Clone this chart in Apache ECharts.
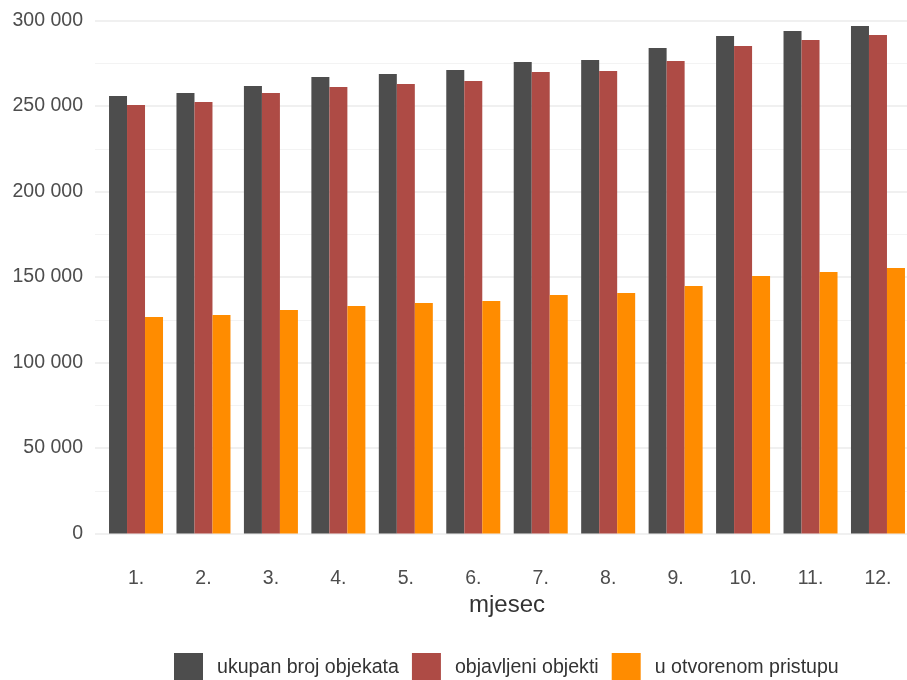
<!DOCTYPE html>
<html>
<head>
<meta charset="utf-8">
<script src="https://cdn.jsdelivr.net/npm/echarts@6/dist/echarts.min.js"></script>
<style>html,body{margin:0;padding:0;background:#fff}#c{width:907px;height:680px}</style>
</head>
<body>
<div id="c"></div>
<script>
const months = ['1.','2.','3.','4.','5.','6.','7.','8.','9.','10.','11.','12.'];
const seriesNames = ['ukupan broj objekata','objavljeni objekti','u otvorenom pristupu'];
const ukupan = [255800, 257600, 261700, 266900, 268700, 271100, 275700, 276900, 283900, 291000, 293900, 296800];
const objavljeni = [250600, 252300, 257600, 261100, 262900, 264600, 269900, 270500, 276300, 285100, 288600, 291500];
const otvoreni = [126600, 127800, 130700, 133000, 134800, 136000, 139500, 140600, 144700, 150600, 152900, 155300];
const colors = ['#4D4D4D', '#AE4B45', '#FF8C00'];
const yTicks = [0, 50000, 100000, 150000, 200000, 250000, 300000];

const fmt = v => String(v).replace(/\B(?=(\d{3})+(?!\d))/g, ' ');
const font = 'Liberation Sans, Arial, sans-serif';
const chart = echarts.init(document.getElementById('c'), null, {renderer: 'canvas'});
const dataSets = [ukupan, objavljeni, otvoreni];
chart.setOption({
  animation: false,
  backgroundColor: '#fff',
  textStyle: {fontFamily: font},
  grid: [
    {left: 95, right: 0, top: 20.5, bottom: 146.5, outerBoundsMode: 'none', containLabel: false},
    {left: 102.3, width: 809.4, top: 20.5, bottom: 146.5, outerBoundsMode: 'none', containLabel: false}
  ],
  xAxis: [
    {gridIndex: 0, type: 'category', data: months, show: false},
    {gridIndex: 1, type: 'category', data: months,
     axisLine: {show: false}, axisTick: {show: false},
     axisLabel: {color: '#4D4D4D', fontSize: 19.5, margin: 35, fontFamily: font},
     name: 'mjesec', nameLocation: 'middle', nameGap: 59,
     nameTextStyle: {color: '#333', fontSize: 24, fontFamily: font}
    }
  ],
  yAxis: [
    {gridIndex: 0, type: 'value', min: yTicks[0], max: yTicks[yTicks.length-1], interval: 50000,
     axisLine: {show: false}, axisTick: {show: false},
     axisLabel: {color: '#4D4D4D', fontSize: 19.5, margin: 12, formatter: fmt, fontFamily: font},
     splitLine: {show: true, lineStyle: {color: '#EBEBEB', width: 1.6}},
     minorTick: {show: false, splitNumber: 2},
     minorSplitLine: {show: true, lineStyle: {color: '#F2F2F2', width: 0.9}}
    },
    {gridIndex: 1, type: 'value', min: yTicks[0], max: yTicks[yTicks.length-1], interval: 50000, show: false,
     splitLine: {show: false}}
  ],
  legend: {
    left: 169, top: 648, itemWidth: 29, itemHeight: 29, itemGap: 13,
    icon: 'rect',
    textStyle: {color: '#333', fontSize: 19.6, fontFamily: font, padding: [0, 0, 0, 9]},
    data: seriesNames
  },
  series: seriesNames.map((n, i) => ({
    name: n, type: 'bar', xAxisIndex: 1, yAxisIndex: 1,
    data: dataSets[i], barWidth: 18, barGap: '0%',
    itemStyle: {color: colors[i]}
  }))
});
</script>
</body>
</html>
